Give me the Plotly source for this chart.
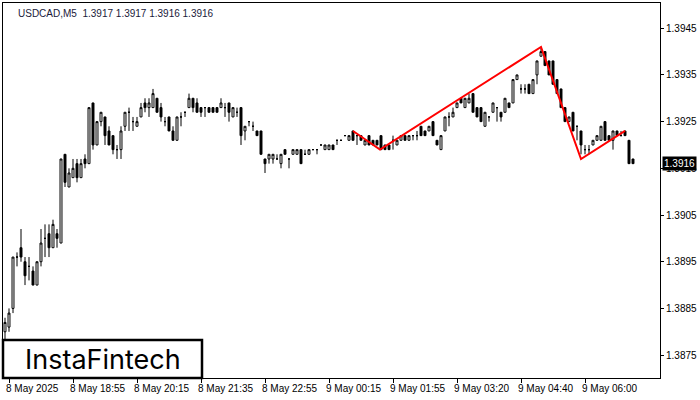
import plotly.graph_objects as go

opens = [1.3880,1.3881,1.3885,1.3896,1.3898,1.3895,1.3894,1.3893,1.3890,1.3895,1.3900,1.3901,1.3898,1.3901,1.3899,1.3918,1.3911,1.3913,1.3916,1.3913,
1.3917,1.3916,1.3929,1.3920,1.3925,1.3926,1.3923,1.3922,1.3919,1.3919,1.3924,1.3927,1.3925,1.3924,1.3926,1.3929,1.3928,1.3928,1.3930,1.3928,
1.3925,1.3926,1.3923,1.3921,1.3926,1.3927,1.3928,1.3930,1.3929,1.3928,1.3928,1.3928,1.3928,1.3928,1.3928,1.3928,1.3929,1.3926,1.3927,1.3928,
1.3923,1.3925,1.3924,1.3923,1.3923,1.3917,1.3917,1.3917,1.3917,1.3916,1.3919,1.3917,1.3918,1.3918,1.3919,1.3918,1.3918,1.3919,1.3919,1.3920,
1.3919,1.3919,1.3920,1.3921,1.3921,1.3922,1.3921,1.3923,1.3922,1.3922,1.3920,1.3922,1.3921,1.3921,1.3922,1.3920,1.3920,1.3921,1.3920,1.3921,
1.3922,1.3921,1.3922,1.3922,1.3924,1.3923,1.3923,1.3925,1.3921,1.3919,1.3923,1.3926,1.3926,1.3928,1.3930,1.3928,1.3929,1.3931,1.3928,1.3928,
1.3924,1.3926,1.3927,1.3928,1.3927,1.3927,1.3929,1.3929,1.3934,1.3932,1.3932,1.3933,1.3931,1.3935,1.3939,1.3940,1.3938,1.3938,1.3934,1.3932,
1.3928,1.3925,1.3927,1.3924,1.3923,1.3919,1.3919,1.3920,1.3921,1.3921,1.3925,1.3922,1.3921,1.3923,1.3922,1.3923,1.3921,1.3917]
highs = [1.3883,1.3885,1.3896,1.3897,1.3902,1.3896,1.3896,1.3894,1.3895,1.3902,1.3903,1.3903,1.3904,1.3902,1.3917,1.3918,1.3915,1.3917,1.3917,1.3917,
1.3918,1.3928,1.3929,1.3925,1.3927,1.3926,1.3924,1.3922,1.3920,1.3924,1.3927,1.3928,1.3926,1.3926,1.3929,1.3930,1.3930,1.3932,1.3930,1.3929,
1.3926,1.3926,1.3924,1.3926,1.3927,1.3927,1.3931,1.3930,1.3930,1.3928,1.3928,1.3928,1.3928,1.3928,1.3930,1.3929,1.3929,1.3928,1.3928,1.3928,
1.3924,1.3925,1.3925,1.3923,1.3923,1.3917,1.3918,1.3918,1.3918,1.3918,1.3919,1.3917,1.3919,1.3919,1.3919,1.3919,1.3919,1.3919,1.3919,1.3920,
1.3920,1.3920,1.3920,1.3921,1.3921,1.3922,1.3922,1.3923,1.3922,1.3922,1.3921,1.3922,1.3921,1.3921,1.3922,1.3920,1.3920,1.3922,1.3921,1.3922,
1.3922,1.3922,1.3922,1.3923,1.3924,1.3923,1.3924,1.3925,1.3921,1.3922,1.3926,1.3927,1.3928,1.3929,1.3930,1.3930,1.3931,1.3931,1.3928,1.3928,
1.3927,1.3926,1.3929,1.3928,1.3927,1.3930,1.3929,1.3934,1.3935,1.3933,1.3933,1.3933,1.3934,1.3938,1.3941,1.3940,1.3938,1.3938,1.3934,1.3932,
1.3928,1.3926,1.3927,1.3924,1.3923,1.3920,1.3920,1.3921,1.3922,1.3924,1.3925,1.3922,1.3923,1.3923,1.3923,1.3923,1.3921,1.3917]
lows = [1.3878,1.3880,1.3884,1.3894,1.3895,1.3890,1.3891,1.3890,1.3890,1.3894,1.3896,1.3896,1.3898,1.3898,1.3899,1.3911,1.3911,1.3913,1.3912,1.3913,
1.3915,1.3916,1.3919,1.3920,1.3924,1.3920,1.3920,1.3918,1.3917,1.3917,1.3923,1.3923,1.3923,1.3924,1.3926,1.3927,1.3926,1.3928,1.3927,1.3925,
1.3924,1.3923,1.3921,1.3921,1.3924,1.3926,1.3928,1.3927,1.3927,1.3926,1.3926,1.3927,1.3927,1.3927,1.3928,1.3926,1.3925,1.3926,1.3926,1.3920,
1.3921,1.3924,1.3923,1.3922,1.3918,1.3914,1.3916,1.3916,1.3917,1.3915,1.3918,1.3915,1.3918,1.3918,1.3916,1.3918,1.3918,1.3919,1.3918,1.3920,
1.3919,1.3919,1.3919,1.3920,1.3921,1.3922,1.3921,1.3921,1.3920,1.3921,1.3920,1.3920,1.3920,1.3920,1.3919,1.3919,1.3919,1.3919,1.3920,1.3921,
1.3921,1.3921,1.3921,1.3921,1.3922,1.3922,1.3923,1.3922,1.3920,1.3919,1.3923,1.3924,1.3926,1.3928,1.3929,1.3928,1.3929,1.3927,1.3926,1.3925,
1.3924,1.3925,1.3927,1.3925,1.3925,1.3927,1.3928,1.3929,1.3934,1.3931,1.3931,1.3931,1.3931,1.3933,1.3939,1.3937,1.3935,1.3933,1.3931,1.3928,
1.3925,1.3925,1.3923,1.3921,1.3918,1.3918,1.3918,1.3920,1.3921,1.3921,1.3921,1.3921,1.3919,1.3922,1.3922,1.3922,1.3916,1.3916]
closes = [1.3882,1.3884,1.3896,1.3896,1.3896,1.3892,1.3894,1.3890,1.3895,1.3899,1.3900,1.3898,1.3903,1.3900,1.3917,1.3912,1.3914,1.3915,1.3913,1.3916,
1.3916,1.3928,1.3920,1.3925,1.3927,1.3922,1.3920,1.3919,1.3919,1.3923,1.3927,1.3927,1.3925,1.3925,1.3928,1.3928,1.3929,1.3931,1.3927,1.3926,
1.3925,1.3923,1.3921,1.3926,1.3926,1.3927,1.3930,1.3928,1.3927,1.3927,1.3928,1.3927,1.3927,1.3927,1.3929,1.3928,1.3927,1.3928,1.3927,1.3922,
1.3924,1.3925,1.3924,1.3922,1.3918,1.3916,1.3918,1.3918,1.3917,1.3918,1.3918,1.3917,1.3919,1.3919,1.3916,1.3918,1.3919,1.3919,1.3919,1.3920,
1.3920,1.3920,1.3919,1.3921,1.3921,1.3922,1.3922,1.3921,1.3922,1.3921,1.3921,1.3920,1.3920,1.3920,1.3919,1.3919,1.3919,1.3921,1.3921,1.3922,
1.3921,1.3922,1.3922,1.3922,1.3922,1.3922,1.3924,1.3922,1.3920,1.3922,1.3926,1.3926,1.3927,1.3929,1.3929,1.3930,1.3930,1.3927,1.3926,1.3925,
1.3927,1.3926,1.3929,1.3928,1.3926,1.3930,1.3928,1.3934,1.3935,1.3932,1.3932,1.3931,1.3934,1.3938,1.3940,1.3937,1.3935,1.3933,1.3931,1.3928,
1.3925,1.3926,1.3923,1.3924,1.3920,1.3919,1.3919,1.3921,1.3922,1.3924,1.3921,1.3921,1.3923,1.3922,1.3922,1.3922,1.3916,1.3916]

pattern_x = [87, 93.75, 134, 144, 155]
pattern_y = [1.3923, 1.3919, 1.3941, 1.3917, 1.3923]

current_price = 1.3916
y_ticks = [1.3945, 1.3935, 1.3925, 1.3915, 1.3905, 1.3895, 1.3885, 1.3875]
x_tick_idx = [1, 17, 33, 49, 65, 81, 97, 113, 129, 145]
x_tick_labels = ["8 May 2025", "8 May 18:55", "8 May 20:15", "8 May 21:35", "8 May 22:55",
                 "9 May 00:15", "9 May 01:55", "9 May 03:20", "9 May 04:40", "9 May 06:00"]

FONT = "Liberation Sans"
idx = list(range(len(closes)))
fig = go.Figure()
fig.add_trace(go.Candlestick(
    x=idx, open=opens, high=highs, low=lows, close=closes,
    increasing=dict(fillcolor="white", line=dict(color="black", width=1)),
    decreasing=dict(fillcolor="black", line=dict(color="black", width=1)),
    whiskerwidth=0, showlegend=False, hoverinfo="skip"))
fig.add_trace(go.Scatter(x=pattern_x, y=pattern_y, mode="lines",
                         line=dict(color="#ff0000", width=2), showlegend=False, hoverinfo="skip"))

fig.add_hline(y=current_price, line=dict(color="black", width=1.2))

ann = [dict(x=i, y=0, xref="x", yref="paper", yanchor="top", xanchor="left", text=t,
            showarrow=False, xshift=-5, yshift=-3, font=dict(size=10, color="black", family=FONT))
       for i, t in zip(x_tick_idx, x_tick_labels)]
ann.append(dict(x=1, y=current_price, xref="paper", yref="y", xanchor="left", yanchor="middle",
                text="1.3916", showarrow=False, bgcolor="black", font=dict(color="white", size=10, family=FONT),
                xshift=2, borderpad=1))
ann.append(dict(x=0.0, y=1, xref="paper", yref="paper", xanchor="left", yanchor="top",
                text="USDCAD,M5  1.3917 1.3917 1.3916 1.3916", showarrow=False, xshift=13, yshift=-3,
                font=dict(size=10, color="#1a1a3a", family=FONT)))
ann.append(dict(x=(103 - 3) / 657, y=(378 - 359) / 375, xref="paper", yref="paper",
                text="InstaFintech", showarrow=False, xanchor="center", yanchor="middle",
                font=dict(size=27, color="black", family="Inter")))

fig.update_layout(
    width=700, height=400, margin=dict(l=3, r=40, t=3, b=22),
    paper_bgcolor="white", plot_bgcolor="white",
    xaxis=dict(range=[-0.5, 163.75], rangeslider=dict(visible=False), showgrid=False, zeroline=False,
               tickvals=x_tick_idx, ticktext=[""] * len(x_tick_idx), ticks="outside", ticklen=4,
               tickcolor="black", showline=True, linecolor="black", mirror=True),
    yaxis=dict(range=[1.38701, 1.39504], side="right", showgrid=False, zeroline=False,
               tickvals=y_ticks, tickformat=".4f", ticks="outside", ticklen=3, tickcolor="black",
               showline=True, linecolor="black", mirror=True,
               tickfont=dict(size=10, color="black", family=FONT)),
    annotations=ann,
    shapes=[dict(type="rect", xref="paper", yref="paper", x0=0.0, x1=(202 - 3) / 657,
                 y0=0.0, y1=(378 - 340) / 375, fillcolor="white", line=dict(color="black", width=2.5))],
)
fig.write_html("out.html", config={"displayModeBar": False},
               post_script="document.body.style.margin='0';")
